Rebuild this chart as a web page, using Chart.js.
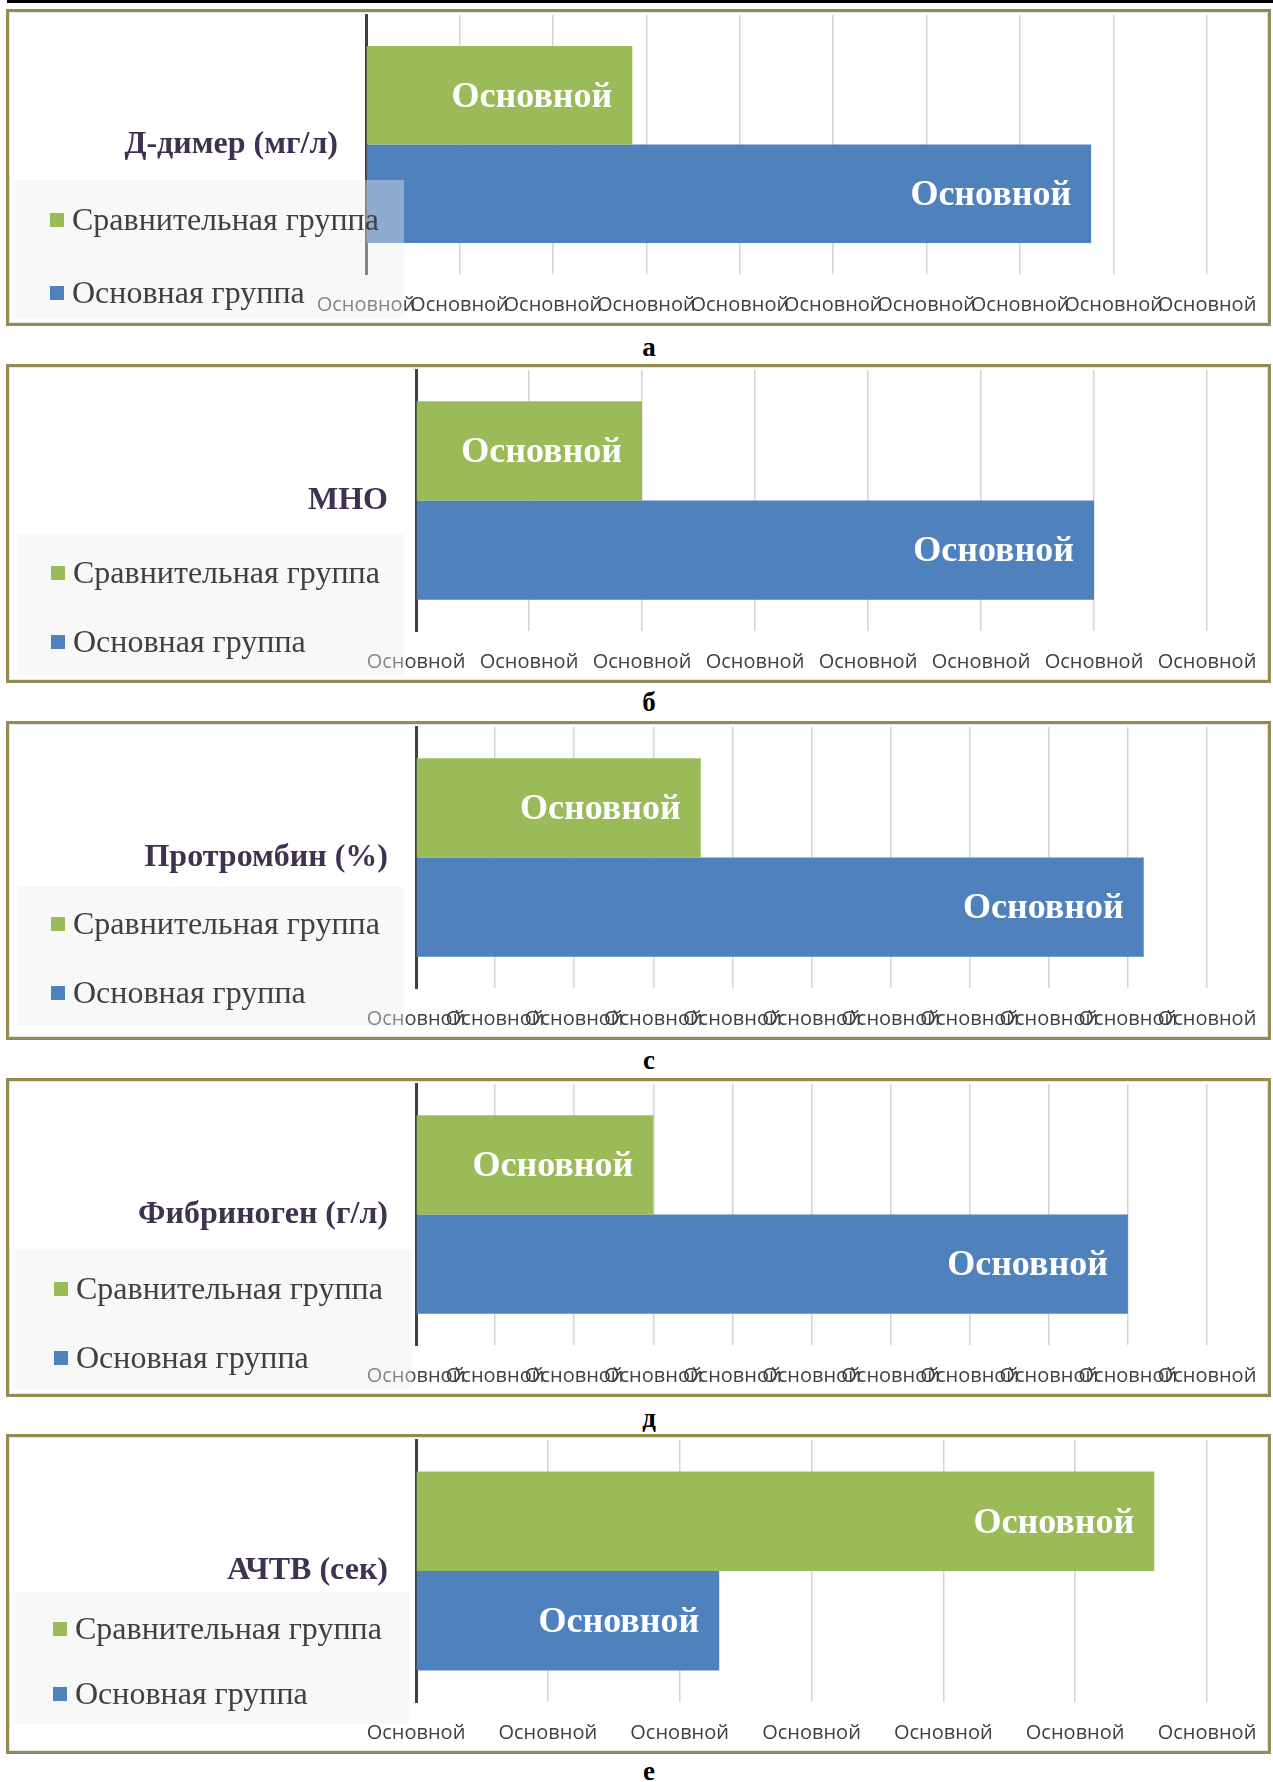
<!DOCTYPE html>
<html>
<head>
<meta charset="utf-8">
<script src="https://cdn.jsdelivr.net/npm/chart.js@4.4.1/dist/chart.umd.min.js"></script>
<style>
  html, body { margin: 0; padding: 0; background: #fff; }
  #page { position: relative; width: 1273px; height: 1782px; overflow: hidden; }
  .topline { position: absolute; left: 7px; top: 0; width: 1266px; height: 3px; background: #000; }
  .panel { position: absolute; left: 6px; width: 1259px; border: 3px solid #948a54; box-shadow: inset 0 0 0 1px #e4e4e4; }
  .panel canvas { display: block; }
  .legend { position: absolute; background: rgba(238, 238, 238, 0.4); }
  .legend .item { position: absolute; transform: translateY(-50%); font-family: 'Liberation Serif', 'Times New Roman', serif; font-size: 32px; color: #404040; white-space: nowrap; line-height: 1; }
  .legend .sq { display: inline-block; width: 14px; height: 14px; margin-right: 8px; vertical-align: 3px; }
  .letter { position: absolute; left: 599px; width: 100px; text-align: center; transform: translateY(-50%); font: bold 27px 'Liberation Serif', 'Times New Roman', serif; color: #000; }
</style>
</head>
<body>
<div id="page"><div class="topline"></div></div>
<script>
// values, in grid steps (tick labels are all "Основной")
const categories = ['Д-димер (мг/л)', 'МНО', 'Протромбин (%)', 'Фибриноген (г/л)', 'АЧТВ (сек)'];
const seriesNames = ['Сравнительная группа', 'Основная группа'];
const seriesColors = ['#9bbb59', '#4f81bd'];
const comparisonValues = [2.85, 2.0, 3.6, 3.0, 5.6];
const mainValues = [7.76, 6.0, 9.2, 9.0, 2.3];
const axisMax = [9, 7, 10, 10, 6];
const tickLabel = 'Основной';
const barLabel = 'Основной';
const panelLetters = ['а', 'б', 'с', 'д', 'е'];

// page layout of each panel
const layout = [
  { top: 9,    height: 317, axisX: 357, legend: [14, 180, 390, 138],  items: [39, 112], itemX: 36 },
  { top: 364,  height: 319, axisX: 407, legend: [17, 534, 387, 142],  items: [38, 107], itemX: 34 },
  { top: 721,  height: 319, axisX: 407, legend: [17, 887, 387, 139],  items: [36, 105], itemX: 34 },
  { top: 1078, height: 319, axisX: 407, legend: [14, 1250, 398, 139], items: [38, 107], itemX: 40 },
  { top: 1434, height: 320, axisX: 407, legend: [14, 1592, 395, 132], items: [36, 101], itemX: 39 }
];
const letterY = [347, 702, 1060, 1418, 1771];

const barLabelsPlugin = {
  id: 'barLabels',
  afterDatasetsDraw(chart) {
    const ctx = chart.ctx;
    ctx.save();
    ctx.font = 'bold 36px "Liberation Serif", "Times New Roman", serif';
    ctx.fillStyle = '#ffffff';
    ctx.textAlign = 'right';
    ctx.textBaseline = 'middle';
    chart.data.datasets.forEach((ds, i) => {
      chart.getDatasetMeta(i).data.forEach(bar => {
        ctx.fillText(barLabel, bar.x - 20, bar.y + 2);
      });
    });
    ctx.restore();
  }
};

const page = document.getElementById('page');

categories.forEach((cat, i) => {
  const L = layout[i];
  const panel = document.createElement('div');
  panel.className = 'panel';
  panel.style.top = L.top + 'px';
  panel.style.height = (L.height - 6) + 'px';
  const canvas = document.createElement('canvas');
  canvas.width = 1259;
  canvas.height = L.height - 6;
  panel.appendChild(canvas);
  page.appendChild(panel);

  new Chart(canvas, {
    type: 'bar',
    data: {
      labels: [cat],
      datasets: [
        { label: seriesNames[0], data: [comparisonValues[i]], backgroundColor: seriesColors[0], categoryPercentage: 0.76, barPercentage: 1 },
        { label: seriesNames[1], data: [mainValues[i]], backgroundColor: seriesColors[1], categoryPercentage: 0.76, barPercentage: 1 }
      ]
    },
    options: {
      indexAxis: 'y',
      responsive: false,
      animation: false,
      events: [],
      layout: { padding: { top: 3, right: 61, bottom: 0, left: 0 } },
      plugins: { legend: { display: false }, tooltip: { enabled: false } },
      scales: {
        x: {
          type: 'linear',
          min: 0,
          max: axisMax[i],
          ticks: {
            stepSize: 1,
            autoSkip: false,
            maxRotation: 0,
            minRotation: 0,
            padding: 19,
            color: '#404040',
            font: { family: "'Open Sans', sans-serif", size: 20 },
            callback: () => tickLabel
          },
          grid: { color: '#d4d4d4', lineWidth: 1.5, drawTicks: false },
          border: { display: false },
          afterFit: s => {
            s.height = 49;
            s.paddingLeft = 0;
            s.paddingRight = 0;
          }
        },
        y: {
          ticks: {
            padding: 28,
            color: '#3f3151',
            font: { family: "'Liberation Serif', 'Times New Roman', serif", size: 32, weight: 'bold' }
          },
          grid: { display: false, drawTicks: false },
          border: { display: true, color: '#404040', width: 3 },
          afterFit: s => {
            s.width = L.axisX;
            s.paddingTop = 0;
            s.paddingBottom = 0;
          }
        }
      }
    },
    plugins: [barLabelsPlugin]
  });

  // legend box, drawn over the chart like in the original
  const lg = document.createElement('div');
  lg.className = 'legend';
  lg.style.left = L.legend[0] + 'px';
  lg.style.top = L.legend[1] + 'px';
  lg.style.width = L.legend[2] + 'px';
  lg.style.height = L.legend[3] + 'px';
  seriesNames.forEach((name, k) => {
    const it = document.createElement('div');
    it.className = 'item';
    it.style.left = L.itemX + 'px';
    it.style.top = L.items[k] + 'px';
    it.innerHTML = '<span class="sq" style="background:' + seriesColors[k] + '"></span>' + name;
    lg.appendChild(it);
  });
  page.appendChild(lg);

  const letter = document.createElement('div');
  letter.className = 'letter';
  letter.style.top = letterY[i] + 'px';
  letter.textContent = panelLetters[i];
  page.appendChild(letter);
});
</script>
</body>
</html>
